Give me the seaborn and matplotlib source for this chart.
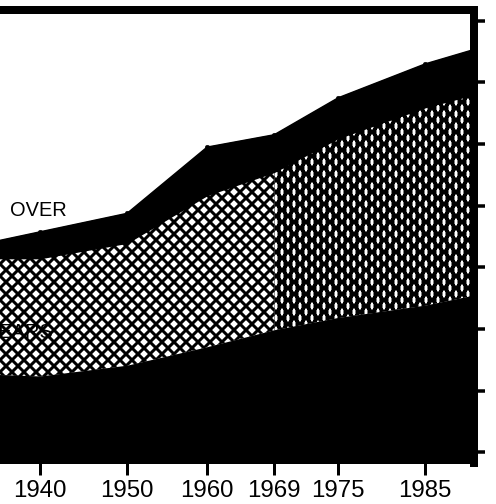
import numpy as np
import matplotlib
matplotlib.use("Agg")
import matplotlib.pyplot as plt
import seaborn as sns

# population bands (stacked)
YEARS = [1935, 1940, 1950, 1960, 1969, 1975, 1985, 1991]
UNDER = [50, 49, 56, 68, 79, 87, 95, 102]      # bottom black band
MIDDLE = [76, 77, 80, 99, 103, 117, 129, 131]  # hatched band
OVER = [11, 17, 19, 31, 24, 26, 28, 29]        # top black band

TICK_YEARS = [1940, 1950, 1960, 1969, 1975, 1985]
TICK_LABELS = ["1940", "1950", "1960", "1969", "1975", "1985"]
Y_TICKS = [0, 40, 80, 120, 160, 200, 240, 280]
SPLIT_YEAR = 1969

# the original x axis is not evenly spaced, map years through anchors
SCALE_YEARS = [1930, 1940, 1950, 1960, 1969, 1975, 1985, 1995]
SCALE_POS = [-47, 40, 127, 207, 274, 338, 425, 512]


def fwd(x):
    return np.interp(x, SCALE_YEARS, SCALE_POS)


def inv(p):
    return np.interp(p, SCALE_POS, SCALE_YEARS)


sns.set_theme(style="white")
plt.rcParams["font.family"] = ["Liberation Sans", "DejaVu Sans"]

fig = plt.figure(figsize=(496 / 72, 504 / 72), dpi=72)
ax = fig.add_axes([0, 1 - 463 / 504, 474 / 496, 453 / 504])
ax.set_xscale("function", functions=(fwd, inv))
ax.set_xlim(1935.4, 1990.6)
ax.set_ylim(-7, 287)

yr = np.array(YEARS)
low = np.array(UNDER, dtype=float)
mid = low + np.array(MIDDLE)
top = mid + np.array(OVER)

early = yr <= SPLIT_YEAR
late = yr >= SPLIT_YEAR
h1 = ax.fill_between(yr[early], low[early], mid[early], facecolor="white",
                     edgecolor="black", hatch="xx", lw=0, zorder=1)
h2 = ax.fill_between(yr[late], low[late], mid[late], facecolor="white",
                     edgecolor="black", hatch="xx||", lw=0, zorder=1)
if hasattr(h1, "set_hatch_linewidth"):
    h1.set_hatch_linewidth(3)
    h2.set_hatch_linewidth(3)
else:
    plt.rcParams["hatch.linewidth"] = 3

# black bands drawn over the hatch edges so no white seam shows
ax.fill_between(yr, -7, low, facecolor="black", edgecolor="black", lw=1.5, zorder=2)
ax.fill_between(yr, mid, top, facecolor="black", edgecolor="black", lw=1.5, zorder=2)
sns.lineplot(x=yr, y=top, color="black", lw=1.5, ax=ax, zorder=3)
sns.scatterplot(x=yr[1:-1], y=top[1:-1], color="black", s=22, ax=ax,
                edgecolor="black", zorder=4)

ax.text(1936.6, 157, "OVER", fontsize=20, ha="left", va="center", color="black")
ax.text(1941.5, 78, "YEARS", fontsize=20, ha="right", va="center", color="black",
        zorder=5)

ax.set_xticks(TICK_YEARS)
ax.set_xticklabels(TICK_LABELS)
ax.xaxis.set_minor_locator(matplotlib.ticker.NullLocator())
ax.set_yticks(Y_TICKS)
ax.yaxis.tick_right()
ax.tick_params(axis="x", direction="out", length=12, width=3, pad=5,
               labelsize=24, colors="black", bottom=True)
ax.tick_params(axis="y", direction="out", length=11, width=3.5, colors="black",
               right=True, left=False, labelright=False, labelleft=False)

for side in ["left", "bottom"]:
    ax.spines[side].set_visible(False)
for side in ["top", "right"]:
    ax.spines[side].set_color("black")
    ax.spines[side].set_linewidth(8)
ax.set_xlabel("")
ax.set_ylabel("")

fig.savefig("out.png", dpi=72)
